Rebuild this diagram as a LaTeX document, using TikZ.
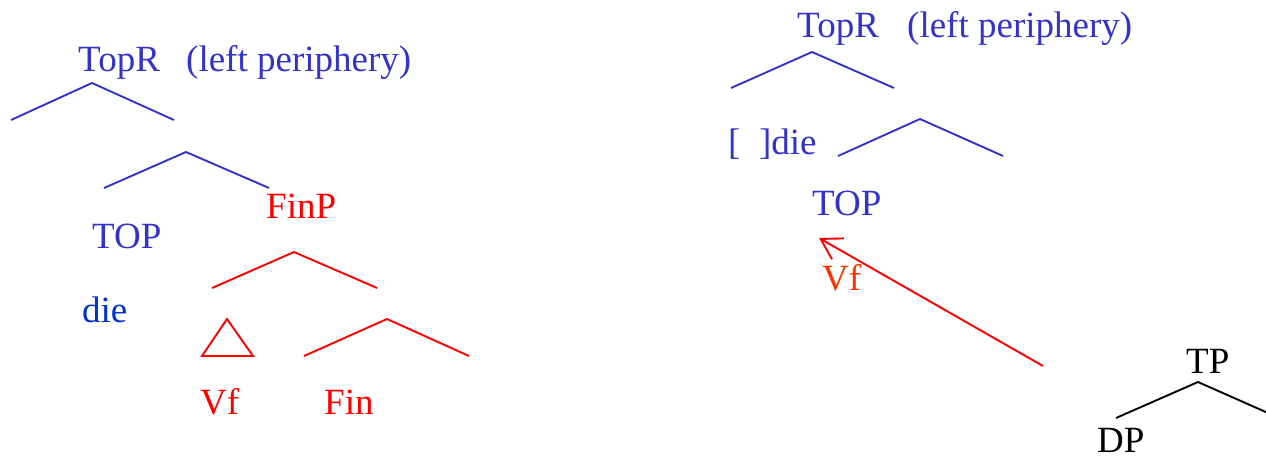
\documentclass[tikz,border=0pt]{standalone}
\usepackage{fontspec}
\setmainfont{Liberation Serif}
\usetikzlibrary{arrows.meta}
\definecolor{tblue}{RGB}{51,51,204}
\definecolor{dblue}{RGB}{0,51,204}
\definecolor{tred}{RGB}{255,0,0}
\definecolor{ored}{RGB}{255,51,0}
\begin{document}
\begin{tikzpicture}[x=1pt,y=-1pt,
  lbl/.style={anchor=base west,inner sep=0pt,font=\fontsize{37}{40}\selectfont},
  bl/.style={draw=tblue,line width=1.9pt},
  rd/.style={draw=tred,line width=1.9pt},
  bk/.style={draw=black,line width=1.9pt}]
\useasboundingbox (0,0) rectangle (1266,458);
% ---------- left tree ----------
\node[lbl,text=tblue] (topRL) at (78,71) {TopR};
\node[lbl,text=tblue] (perL) at (186,71) {(left periphery)};
\coordinate (a1) at (92,83); \coordinate (a1l) at (11,120); \coordinate (a1r) at (174,120);
\draw[bl] (a1l) -- (a1) -- (a1r);
\coordinate (a2) at (186,152); \coordinate (a2l) at (104,188); \coordinate (a2r) at (269,188);
\draw[bl] (a2l) -- (a2) -- (a2r);
\node[lbl,text=tblue] (topL) at (92,248) {TOP};
\node[lbl,text=tred] (finP) at (266,218) {FinP};
\node[lbl,text=dblue] (dieL) at (82,322) {die};
\coordinate (a3) at (294,252); \coordinate (a3l) at (212,288); \coordinate (a3r) at (377,288);
\draw[rd] (a3l) -- (a3) -- (a3r);
\coordinate (t1) at (227,319); \coordinate (t2) at (202,356); \coordinate (t3) at (253,356);
\draw[rd] (t1) -- (t2) -- (t3) -- cycle;
\coordinate (a4) at (387,319); \coordinate (a4l) at (304,356); \coordinate (a4r) at (469,356);
\draw[rd] (a4l) -- (a4) -- (a4r);
\node[lbl,text=tred] (vfL) at (200,414) {Vf};
\node[lbl,text=tred] (finL) at (324,414) {Fin};
% ---------- right tree ----------
\node[lbl,text=tblue] (topRR) at (797,37) {TopR};
\node[lbl,text=tblue] (perR) at (907,37) {(left periphery)};
\coordinate (b1) at (812,52); \coordinate (b1l) at (731,88); \coordinate (b1r) at (894,88);
\draw[bl] (b1l) -- (b1) -- (b1r);
\node[lbl,text=tblue] (dieR) at (728,154) {[\hspace{0.5em}]die};
\coordinate (b2) at (920,119); \coordinate (b2l) at (838,156); \coordinate (b2r) at (1003,156);
\draw[bl] (b2l) -- (b2) -- (b2r);
\node[lbl,text=tblue] (topR2) at (812,215) {TOP};
\node[lbl,text=ored] (vfR) at (822,290) {Vf};
\coordinate (arS) at (1043,366); \coordinate (arE) at (819,238);
\draw[rd,-{Straight Barb[length=20pt,width=24pt]}] (arS) -- (arE);
% ---------- TP ----------
\node[lbl,text=black] (tp) at (1186,373) {TP};
\coordinate (c1) at (1198,382); \coordinate (c1l) at (1116,418); \coordinate (c1r) at (1268,413);
\draw[bk] (c1l) -- (c1) -- (c1r);
\node[lbl,text=black] (dp) at (1097,452) {DP};
\end{tikzpicture}
\end{document}
